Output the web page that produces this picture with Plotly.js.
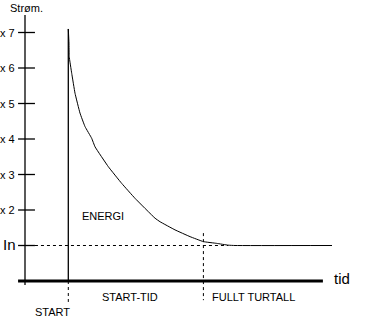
<!DOCTYPE html>
<html><head><meta charset="utf-8">
<script src="https://cdn.plot.ly/plotly-3.0.1.min.js"></script>
<style>html,body{margin:0;padding:0;background:#fff}#c{width:370px;height:319px}</style>
</head><body><div id="c"></div>
<script>
// Data (time in units where START = 1, current in multiples of rated current In)
const curveX = [1.000, 1.016, 1.021, 1.079, 1.155, 1.270, 1.386, 1.540, 1.617, 1.924, 2.233, 2.540, 3.002, 3.118, 3.464, 3.811, 4.118, 4.427, 4.688, 4.850, 7.090];
const curveY = [7.10, 6.70, 6.32, 5.85, 5.29, 4.73, 4.35, 4.02, 3.78, 3.22, 2.75, 2.33, 1.77, 1.67, 1.44, 1.25, 1.11, 1.06, 1.01, 1.00, 1.00];
const tickVals = [2, 3, 4, 5, 6, 7];
const tickLabels = ["x 2", "x 3", "x 4", "x 5", "x 6", "x 7"];
const ratedLabel = "In";
const ratedValue = 1;
const startTime = 1.0;
const fullSpeedTime = 4.12;
const yAxisTitle = "Strøm.";
const xAxisTitle = "tid";
const regionLabels = ["START", "START-TID", "FULLT TURTALL", "ENERGI"];

const F = "Liberation Sans, Arial, sans-serif";
const black = "#000";
const traces = [];
// y axis line
traces.push({x:[0,0], y:[7.49,-0.11], mode:"lines", line:{color:black,width:1.3}});
// x axis line (thick)
traces.push({x:[-0.16,6.88], y:[0,0], mode:"lines", line:{color:black,width:3}});
// y ticks
const tx=[], ty=[];
[ratedValue].concat(tickVals).forEach(v=>{tx.push(-0.16,0.23,null);ty.push(v,v,null);});
traces.push({x:tx, y:ty, mode:"lines", line:{color:black,width:1.3}});
// dashed rated line
traces.push({x:[0.23,4.69], y:[ratedValue,ratedValue], mode:"lines", line:{color:black,width:1,dash:"3px,3px"}});
// start vertical solid
traces.push({x:[startTime,startTime], y:[0,7.10], mode:"lines", line:{color:black,width:1.3}});
// start vertical dashed below axis
traces.push({x:[startTime,startTime], y:[0,-0.59], mode:"lines", line:{color:black,width:1,dash:"3px,3px"}});
// full speed dashed vertical
traces.push({x:[fullSpeedTime,fullSpeedTime], y:[1.35,-0.54], mode:"lines", line:{color:black,width:1,dash:"3px,3px"}});
// current curve
traces.push({x:curveX, y:curveY, mode:"lines", line:{color:black,width:1,shape:"spline",smoothing:0.3}});

const ann = [];
tickVals.forEach((v,i)=>ann.push({x:-0.19,y:v,text:tickLabels[i],xanchor:"right",yanchor:"middle",showarrow:false,font:{family:F,size:11,color:black}}));
ann.push({x:-0.55,y:ratedValue+0.04,text:ratedLabel,xanchor:"left",yanchor:"middle",showarrow:false,font:{family:F,size:15,color:black}});
ann.push({x:-0.40,y:7.68,text:yAxisTitle,xanchor:"left",yanchor:"middle",showarrow:false,font:{family:F,size:11,color:black}});
ann.push({x:7.10,y:0.07,text:xAxisTitle,xanchor:"left",yanchor:"middle",showarrow:false,font:{family:F,size:15,color:black}});
ann.push({x:0.19,y:-0.86,text:regionLabels[0],xanchor:"left",yanchor:"middle",showarrow:false,font:{family:F,size:11,color:black}});
ann.push({x:1.73,y:-0.46,text:regionLabels[1],xanchor:"left",yanchor:"middle",showarrow:false,font:{family:F,size:11,color:black}});
ann.push({x:4.28,y:-0.46,text:regionLabels[2],xanchor:"left",yanchor:"middle",showarrow:false,font:{family:F,size:11,color:black}});
ann.push({x:1.27,y:1.82,text:regionLabels[3],xanchor:"left",yanchor:"middle",showarrow:false,font:{family:F,size:11,color:black}});

const layout = {
  width:370, height:319, margin:{l:0,r:0,t:0,b:0},
  paper_bgcolor:"#fff", plot_bgcolor:"#fff", showlegend:false,
  xaxis:{range:[-0.5774,7.9677], visible:false, fixedrange:true},
  yaxis:{range:[-1.0704,7.9155], visible:false, fixedrange:true},
  annotations:ann
};
Plotly.newPlot("c", traces.map(t=>Object.assign({hoverinfo:"skip"},t)), layout, {staticPlot:true, displayModeBar:false});
</script>
</body></html>
